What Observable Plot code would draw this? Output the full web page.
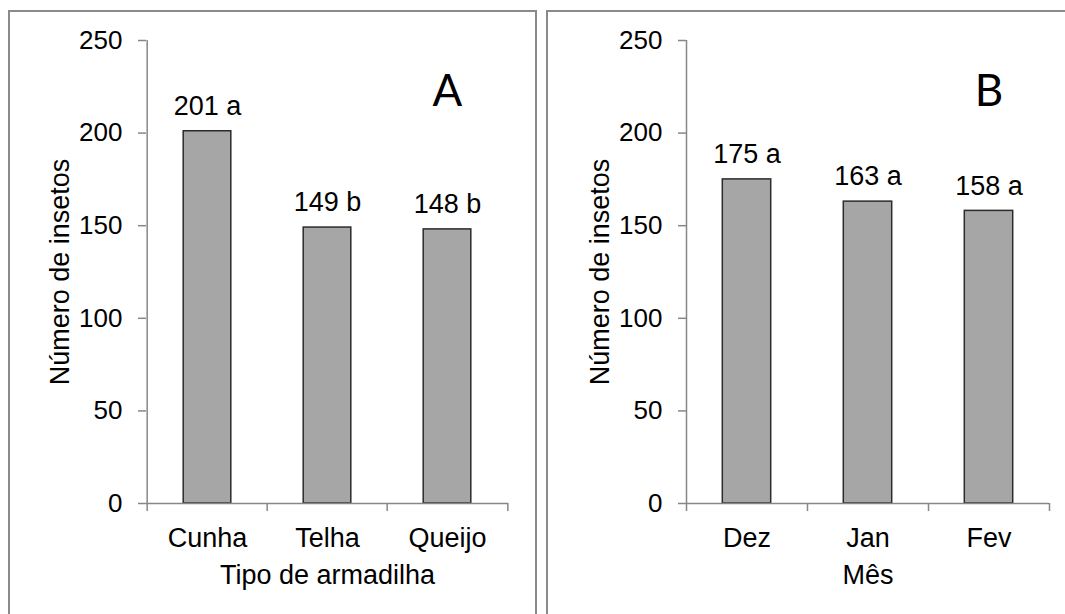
<!DOCTYPE html>
<html><head><meta charset="utf-8">
<script src="https://cdn.jsdelivr.net/npm/d3@7"></script>
<script src="https://cdn.jsdelivr.net/npm/@observablehq/plot@0.6"></script>
<style>
body{margin:0;background:#fff;}
#page{position:relative;width:1065px;height:614px;overflow:hidden;background:#fff;}
.panel{position:absolute;box-sizing:border-box;border:2px solid #8a8a8a;}
.chart{position:absolute;top:0;}
</style></head><body><div id="page">
<div class="panel" style="left:8px;top:10px;width:529px;height:640px"></div>
<div class="panel" style="left:546px;top:10px;width:540px;height:640px"></div>
<div id="a" class="chart" style="left:0px"></div>
<div id="b" class="chart" style="left:540px"></div>
</div>
<script>
const trapTypes = ["Cunha", "Telha", "Queijo"];
const trapCounts = [201, 149, 148];
const trapLetters = ["a", "b", "b"];
const months = ["Dez", "Jan", "Fev"];
const monthCounts = [175, 163, 158];
const monthLetters = ["a", "a", "a"];
const yTicks = [0, 50, 100, 150, 200, 250];
const yLabel = "Número de insetos";
const xLabelA = "Tipo de armadilha";
const xLabelB = "Mês";
const tagA = "A";
const tagB = "B";

const axisColor = "#878787";

function panel({cats, vals, letters, xLabel, tag, width, marginLeft, marginRight}) {
  const data = cats.map((c, i) => ({cat: c, value: vals[i], letter: letters[i]}));
  const height = 614, marginTop = 40, marginBottom = 111;
  const bw = (width - marginLeft - marginRight) / cats.length;
  return Plot.plot({
    width, height, marginLeft, marginRight, marginTop, marginBottom,
    style: {fontFamily: "'Liberation Sans', Arial, sans-serif", fontSize: "26px", color: "#000", background: "transparent"},
    x: {domain: cats, padding: 0},
    y: {domain: [0, 250]},
    marks: [
      Plot.barY(data, {x: "cat", y: "value", fill: "#a6a6a6", stroke: "#2b2b2b", strokeWidth: 1.5, insetLeft: bw * 0.3, insetRight: bw * 0.3}),
      Plot.ruleY([0], {stroke: axisColor, strokeWidth: 1.5}),
      Plot.ruleX([cats[0]], {stroke: axisColor, strokeWidth: 1.5, dx: -bw / 2}),
      Plot.axisY({ticks: yTicks, tickSize: 8, tickPadding: 16, stroke: axisColor, strokeWidth: 1.5, fontSize: 26, fill: "#000",
        label: null, tickFormat: d => String(d)}),
      Plot.axisY({ticks: [], fontSize: 27, fill: "#000", label: yLabel, labelAnchor: "center", labelOffset: 97, labelArrow: "none"}),
      Plot.axisX({tickSize: 0, tickPadding: 24, fontSize: 27, fill: "#000", label: xLabel, labelAnchor: "center", labelOffset: 80, labelArrow: "none"}),
      Plot.axisX({ticks: cats, tickSize: 8, tickFormat: () => "", dx: -bw / 2, label: null, stroke: axisColor, strokeWidth: 1.5}),
      Plot.axisX({ticks: [cats[cats.length - 1]], tickSize: 8, tickFormat: () => "", dx: bw / 2, label: null, stroke: axisColor, strokeWidth: 1.5}),
      Plot.text(data, {x: "cat", y: "value", text: d => `${d.value} ${d.letter}`, dy: -25, fontSize: 27, fill: "#000"}),
      Plot.text([tag], {x: () => cats[cats.length - 1], frameAnchor: "top", dy: 34, fontSize: 44, fontFamily: "Lato", fill: "#000"})
    ]
  });
}

document.getElementById("a").append(panel({cats: trapTypes, vals: trapCounts, letters: trapLetters, xLabel: xLabelA, tag: tagA, width: 537, marginLeft: 146, marginRight: 29}));
document.getElementById("b").append(panel({cats: months, vals: monthCounts, letters: monthLetters, xLabel: xLabelB, tag: tagB, width: 525, marginLeft: 146, marginRight: 16}));
</script>
</body></html>
